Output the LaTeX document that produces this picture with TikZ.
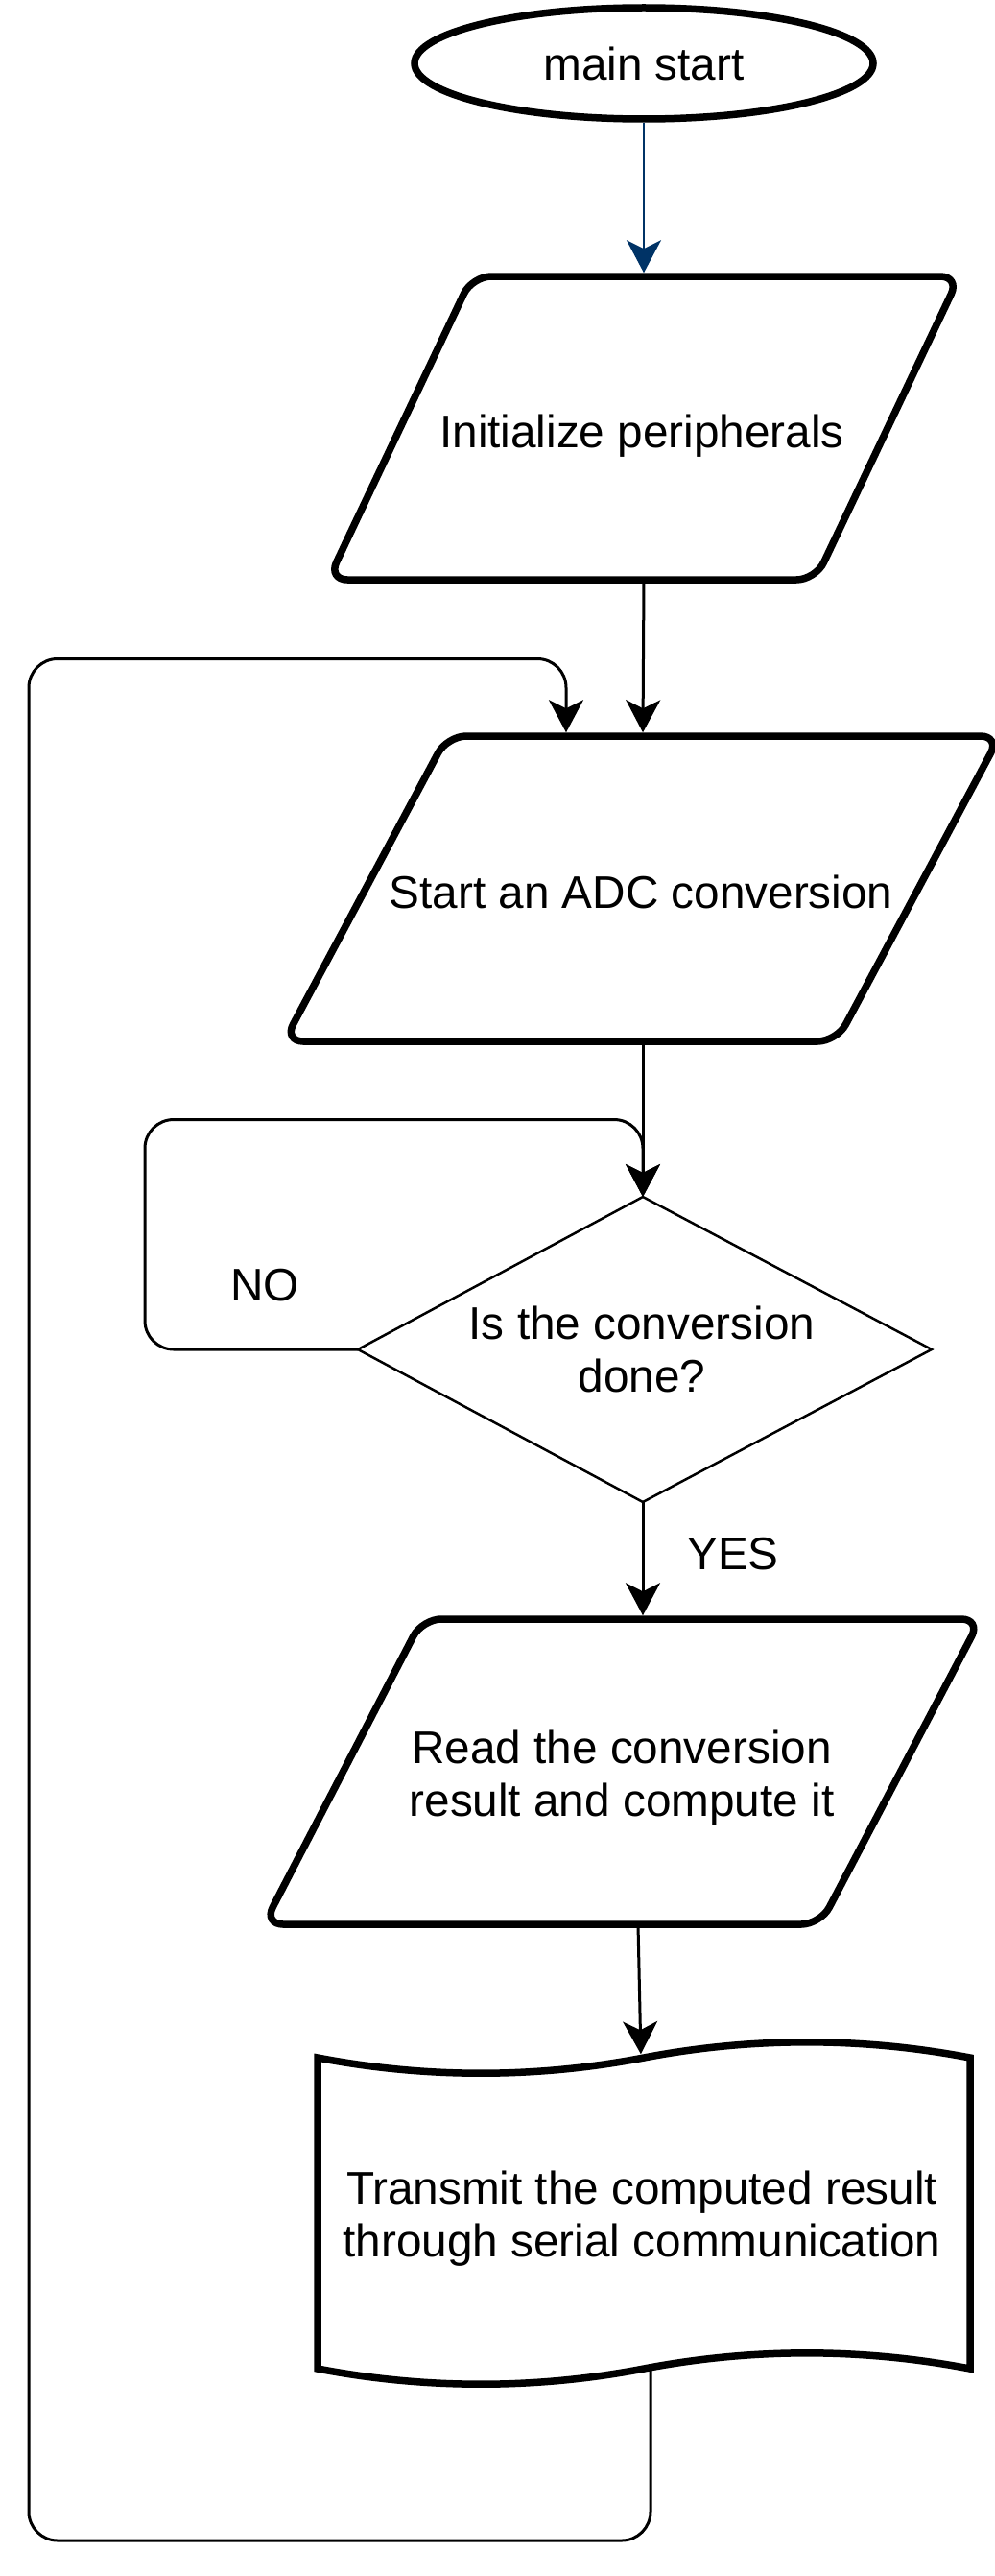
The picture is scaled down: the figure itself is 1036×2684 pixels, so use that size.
\documentclass[tikz,border=0pt]{standalone}
\usepackage{fontspec}
\setmainfont{Liberation Sans}
\usetikzlibrary{arrows.meta,shapes.geometric}
\definecolor{navy}{HTML}{003366}
\begin{document}
\begin{tikzpicture}[x=1pt,y=-1pt,
  shp/.style={draw=black, line width=7.5pt, fill=white},
  para/.style={shp, rounded corners=20pt},
  dia/.style={draw=black, line width=2.5pt, fill=white},
  txt/.style={font=\fontsize{47.7}{55}\selectfont, align=center, inner sep=0pt, text=black},
  tip/.style={-{Stealth[length=34pt,width=36pt,inset=9pt]}},
  conn/.style={draw=black, line width=3pt, tip},
  loopline/.style={conn, rounded corners=30pt},
]
\fill[white] (0,0) rectangle (1036,2684);
\useasboundingbox (0,0) rectangle (1036,2684);

% start terminator
\node[shp, ellipse, minimum width=478pt, minimum height=116pt, txt] (start) at (671,66) {main start};

% Initialize peripherals
\draw[para] (746,288) -- (1000,288) -- (850,604) -- (342,604) -- (492,288) -- cycle;
\node[txt] (p1t) at (669,454) {Initialize peripherals};
\coordinate (p1n) at (671,288);
\coordinate (p1s) at (671,604);

% Start an ADC conversion
\draw[para] (754,767) -- (1042,767) -- (872,1085) -- (296,1085) -- (466,767) -- cycle;
\node[txt] (p2t) at (668,929) {Start an ADC conversion};
\coordinate (p2n) at (670,767);
\coordinate (p2s) at (670,1085);
\coordinate (p2in) at (590,767);

% decision
\draw[dia] (670,1247) -- (971,1406) -- (670,1565) -- (373,1406) -- cycle;
\coordinate (dn) at (670,1247);
\coordinate (ds) at (670,1565);
\coordinate (dw) at (373,1406);
\node[txt] (dt) at (669,1406) {Is the conversion\\done?};
\node[txt] (no) at (276,1339) {NO};
\node[txt] (yes) at (764,1619) {YES};
\coordinate (noc) at (151,1166.5);

% Read the conversion result
\draw[para] (731,1687) -- (1022,1687) -- (855,2005) -- (275,2005) -- (440,1687) -- cycle;
\node[txt] (p3t) at (648,1853) {Read the conversion\\result and compute it};
\coordinate (p3n) at (670,1687);
\coordinate (p3s) at (665,2005);

% Transmit (tape)
\draw[shp] (331,2144) .. controls (444.3,2165.6) and (557.7,2165.6) .. (671,2144)
  .. controls (784.3,2122.4) and (897.7,2122.4) .. (1011,2144) -- (1011,2468)
  .. controls (897.7,2446.4) and (784.3,2446.4) .. (671,2468)
  .. controls (557.7,2489.6) and (444.3,2489.6) .. (331,2468) -- cycle;
\node[txt] (tt) at (669,2312) {Transmit the computed result\\through serial communication};
\coordinate (tn) at (668,2144);
\coordinate (ts) at (678,2468);
\coordinate (lpb) at (30,2647);
\coordinate (lpt) at (30,686.5);

% connectors
\draw[conn, draw=navy, line width=2pt, shorten >=3.75pt] (start.south) -- (p1n);
\draw[conn, shorten >=3.75pt] (p1s) -- (p2n);
\draw[conn] (p2s) -- (dn);
\draw[loopline] (dw) -| (noc) -| (dn);
\draw[conn, shorten >=3.75pt] (ds) -- (p3n);
\draw[conn, shorten >=3.75pt] (p3s) -- (tn);
\draw[loopline, shorten >=3.75pt] (ts) |- (lpb) -- (lpt) -| (p2in);
\end{tikzpicture}
\end{document}
